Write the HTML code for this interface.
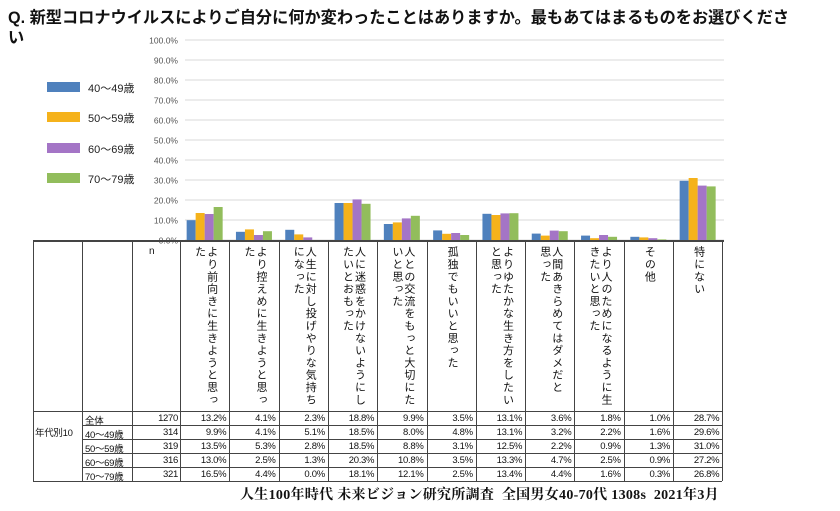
<!DOCTYPE html>
<html><head><meta charset="utf-8">
<style>
body{margin:0;background:#fff;width:840px;height:511px;position:relative;overflow:hidden;font-family:"Liberation Sans","Noto Sans CJK JP",sans-serif;}
.abs{position:absolute;}
#title{left:8px;top:8px;font-size:16.2px;font-weight:bold;line-height:20px;width:832px;color:#111;white-space:nowrap;}
.leg{position:absolute;left:47px;width:33px;height:10px;}
.legt{position:absolute;left:88px;font-size:11px;color:#222;}
.vh{position:absolute;top:246px;height:172px;writing-mode:vertical-rl;font-size:11px;letter-spacing:1.3px;line-height:12px;color:#111;white-space:nowrap;}
.cell{position:absolute;font-size:9.5px;color:#111;text-align:right;letter-spacing:-0.3px;}
.ln{position:absolute;background:#444;}
#footer{left:240px;top:484px;font-size:14px;font-weight:bold;font-family:"Liberation Serif","Noto Serif CJK SC",serif;color:#111;white-space:pre;letter-spacing:0.3px;}
</style></head><body>
<div id="title" class="abs">Q. 新型コロナウイルスによりご自分に何か変わったことはありますか。最もあてはまるものをお選びくださ<br>い</div>
<div class="leg" style="top:82px;background:#4f81bd"></div>
<div class="legt" style="top:80px">40～49歳</div>
<div class="leg" style="top:112px;background:#f5b21b"></div>
<div class="legt" style="top:110px">50～59歳</div>
<div class="leg" style="top:143px;background:#a475c6"></div>
<div class="legt" style="top:141px">60～69歳</div>
<div class="leg" style="top:173px;background:#92bd5c"></div>
<div class="legt" style="top:171px">70～79歳</div>
<svg id="chart" class="abs" style="left:0;top:0" width="840" height="511"></svg>
<div id="table"></div>
<div id="footer" class="abs">人生100年時代 未来ビジョン研究所調査  全国男女40-70代 1308s  2021年3月</div>
<script>
const categories=["より前向きに生きようと思っ|た","より控えめに生きようと思っ|た","人生に対し投げやりな気持ち|になった","人に迷惑をかけないようにし|たいとおもった","人との交流をもっと大切にた|いと思った","孤独でもいいと思った","よりゆたかな生き方をしたい|と思った","人間あきらめてはダメだと|思った","より人のためになるように生|きたいと思った","その他","特にない"];
const rowLabels=["全体","40～49歳","50～59歳","60～69歳","70～79歳"];
const nValues=[1270,314,319,316,321];
const total=[13.2,4.1,2.3,18.8,9.9,3.5,13.1,3.6,1.8,1.0,28.7];
const s40=[9.9,4.1,5.1,18.5,8.0,4.8,13.1,3.2,2.2,1.6,29.6];
const s50=[13.5,5.3,2.8,18.5,8.8,3.1,12.5,2.2,0.9,1.3,31.0];
const s60=[13.0,2.5,1.3,20.3,10.8,3.5,13.3,4.7,2.5,0.9,27.2];
const s70=[16.5,4.4,0.0,18.1,12.1,2.5,13.4,4.4,1.6,0.3,26.8];
const yTicks=[0,10,20,30,40,50,60,70,80,90,100];
const series=[s40,s50,s60,s70];
const colors=["#4f81bd","#f5b21b","#a475c6","#92bd5c"];
const NS="http://www.w3.org/2000/svg";
const svg=document.getElementById('chart');
const x0=180,colW=49.3,yBase=240,yTop=40;
const y=v=>yBase-(v/100)*(yBase-yTop);
const xc=i=>x0+colW*i+colW/2;
function mk(t,a){const e=document.createElementNS(NS,t);for(const k in a)e.setAttribute(k,a[k]);svg.appendChild(e);return e;}
yTicks.forEach(t=>{
  const g=mk('line',{x1:185,x2:724,y1:y(t),y2:y(t),stroke:'#d9d9d9','stroke-width':1});
  
  
  const tx=mk('text',{x:178,y:y(t)+3.5,'text-anchor':'end','font-size':8.5,fill:'#555','font-family':'Liberation Sans'});
  tx.textContent=t.toFixed(1)+'%';
  
  
});
const bw=9;
series.forEach((s,si)=>{
  s.forEach((v,i)=>{
    const r=mk('rect',{x:xc(i)-2*bw+si*bw,y:y(v),width:bw,height:yBase-y(v),fill:colors[si]});
    
    
  });
});
const tb=document.getElementById('table');
function ln(l,t,w,h,name){const d=document.createElement('div');d.className='ln';d.style.cssText=`left:${l}px;top:${t}px;width:${w}px;height:${h}px`;


tb.appendChild(d);}
const tTop=241,hBot=411,rowH=14,tL=33,tR=x0+colW*11;
const tBot=hBot+rowH*5;
ln(tL,tTop-1,tR-tL+2,2,'table-top-border');
ln(tL,tTop,1,tBot-tTop,'table-left-border');
ln(tR,tTop,1,tBot-tTop,'table-right-border');
ln(82,tTop,1,tBot-tTop,'col-line');
ln(132,tTop,1,tBot-tTop,'col-line');
for(let i=0;i<11;i++)ln(x0+colW*i,tTop,1,tBot-tTop,'col-line');
ln(tL,hBot,tR-tL,1,'header-bottom');
for(let r=1;r<=5;r++)ln(r<5?82:tL,hBot+rowH*r,tR-(r<5?82:tL),1,'row-line');
const nh=document.createElement('div');nh.className='cell';nh.style.cssText='left:149px;top:246px;font-size:10px';nh.textContent='n';


tb.appendChild(nh);
categories.forEach((c,i)=>{
  const d=document.createElement('div');d.className='vh';
  const parts=c.split('|');
  d.innerHTML=parts.join('<br>');
  const w=parts.length*12;
  d.style.left=(xc(i)-w/2+1)+'px';
  
  
  tb.appendChild(d);
});
const rl=document.createElement('div');rl.className='cell';rl.style.cssText='left:35px;top:425px;text-align:left';rl.textContent='年代別10';


tb.appendChild(rl);
const rows=[total,s40,s50,s60,s70];
rows.forEach((row,r)=>{
  const ty=hBot+rowH*r+1.5;
  const lb=document.createElement('div');lb.className='cell';lb.style.cssText=`left:85px;top:${ty}px;text-align:left`;lb.textContent=rowLabels[r];
  
  
  tb.appendChild(lb);
  const n=document.createElement('div');n.className='cell';n.style.cssText=`left:132px;width:46px;top:${ty}px`;n.textContent=nValues[r];
  
  
  tb.appendChild(n);
  row.forEach((v,i)=>{
    const c=document.createElement('div');c.className='cell';
    c.style.cssText=`left:${x0+colW*i}px;width:${colW-3}px;top:${ty}px`;
    c.textContent=v.toFixed(1)+'%';
    
    
    tb.appendChild(c);
  });
});
</script>
</body></html>
